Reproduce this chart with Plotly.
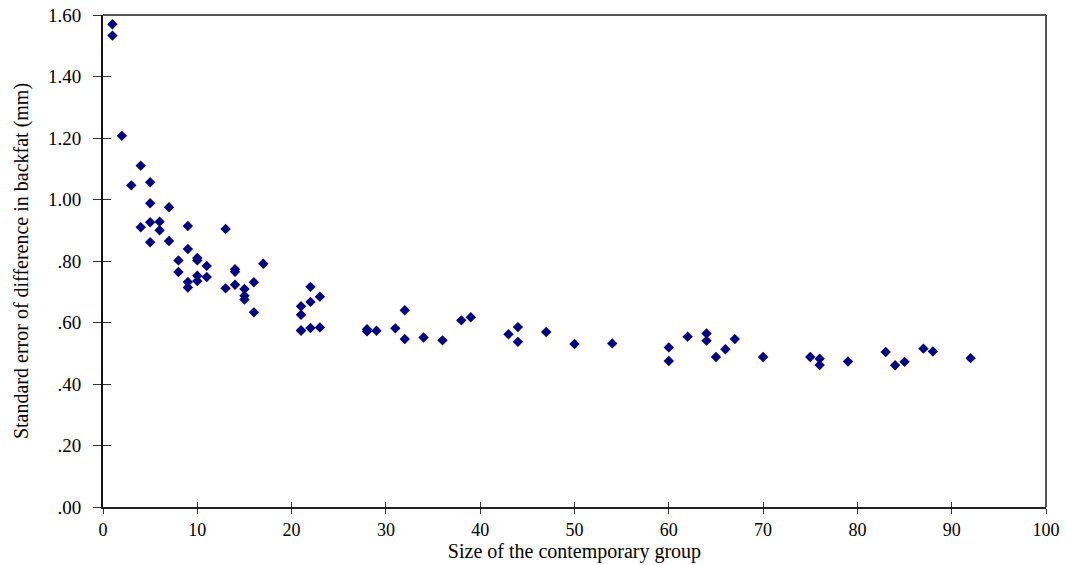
import plotly.graph_objects as go

group_size = [1, 1, 2, 3, 4, 4, 5, 5, 5, 5, 6, 6, 7, 7, 8, 8, 9, 9, 9, 9,
              10, 10, 10, 10, 11, 11, 13, 13, 14, 14, 14, 15, 15, 15, 16, 16, 17,
              21, 21, 21, 21, 22, 22, 22, 23, 23, 28, 28, 29, 31, 32, 32, 34, 36,
              38, 39, 43, 44, 44, 47, 50, 54, 60, 60, 62, 64, 64, 65, 66, 67, 70,
              75, 76, 76, 79, 83, 84, 85, 87, 88, 92]
se_diff = [1.570, 1.533, 1.207, 1.046, 1.110, 0.910, 1.056, 0.988, 0.926, 0.861,
           0.928, 0.900, 0.975, 0.865, 0.802, 0.764, 0.914, 0.839, 0.732, 0.714,
           0.810, 0.802, 0.752, 0.735, 0.784, 0.748, 0.904, 0.711, 0.773, 0.765, 0.723,
           0.709, 0.687, 0.675, 0.731, 0.633, 0.791,
           0.653, 0.625, 0.574, 0.574, 0.716, 0.667, 0.582, 0.684, 0.584,
           0.578, 0.571, 0.573, 0.581, 0.640, 0.546, 0.551, 0.542,
           0.607, 0.617, 0.562, 0.585, 0.537, 0.569, 0.530, 0.532,
           0.519, 0.475, 0.554, 0.564, 0.541, 0.488, 0.513, 0.546, 0.488,
           0.488, 0.482, 0.462, 0.473, 0.504, 0.461, 0.472, 0.515, 0.506, 0.484]

x_ticks = [0, 10, 20, 30, 40, 50, 60, 70, 80, 90, 100]
y_ticks = [0.0, 0.2, 0.4, 0.6, 0.8, 1.0, 1.2, 1.4, 1.6]
y_tick_text = [".00", ".20", ".40", ".60", ".80", "1.00", "1.20", "1.40", "1.60"]

FONT = "Liberation Serif, Times New Roman, serif"

fig = go.Figure()
fig.add_trace(go.Scatter(
    x=group_size, y=se_diff, mode="markers",
    marker=dict(symbol="diamond", size=8, color="#000080",
                line=dict(width=0)),
    showlegend=False, hoverinfo="x+y"))
# invisible trace carrying the inside-tick overlay axes
fig.add_trace(go.Scatter(x=[None], y=[None], xaxis="x2", yaxis="y2",
                         showlegend=False, hoverinfo="skip"))

fig.update_layout(
    width=1066, height=565,
    margin=dict(l=103, r=20, t=15, b=58, autoexpand=False),
    paper_bgcolor="white", plot_bgcolor="white",
    font=dict(family=FONT, size=18, color="black"),
    xaxis=dict(range=[0, 100], tickvals=x_ticks, ticktext=[str(v) for v in x_ticks],
               showgrid=False, zeroline=False, showline=True, linecolor="#222",
               linewidth=2, ticks="outside", ticklen=5, tickwidth=1, tickcolor="#333",
               tickfont=dict(size=18), automargin=False,
               title=dict(text="Size of the contemporary group", font=dict(size=20), standoff=5)),
    yaxis=dict(range=[0, 1.6], tickvals=y_ticks, ticktext=y_tick_text,
               showgrid=False, zeroline=False, showline=True, linecolor="#111",
               linewidth=2, ticks="outside", ticklen=8, tickwidth=1, tickcolor="#333",
               tickfont=dict(size=19), automargin=False, ticklabelstandoff=8,
               title=dict(text="Standard error of difference in backfat (mm)",
                          font=dict(size=20), standoff=14)),
    xaxis2=dict(range=[0, 100], overlaying="x", tickvals=x_ticks, showticklabels=False,
                showgrid=False, zeroline=False, showline=False, ticks="inside",
                ticklen=5, tickwidth=1, tickcolor="#333", side="bottom", anchor="y2"),
    yaxis2=dict(range=[0, 1.6], overlaying="y", tickvals=y_ticks, showticklabels=False,
                showgrid=False, zeroline=False, showline=False, ticks="inside",
                ticklen=8, tickwidth=1, tickcolor="#333", side="left", anchor="x2"),
    shapes=[
        dict(type="line", xref="paper", yref="paper", x0=0, x1=1, y0=1, y1=1,
             line=dict(color="#555", width=2)),
        dict(type="line", xref="paper", yref="paper", x0=1, x1=1, y0=0, y1=1,
             line=dict(color="#555", width=2)),
    ],
)

fig.write_html("out.html")
